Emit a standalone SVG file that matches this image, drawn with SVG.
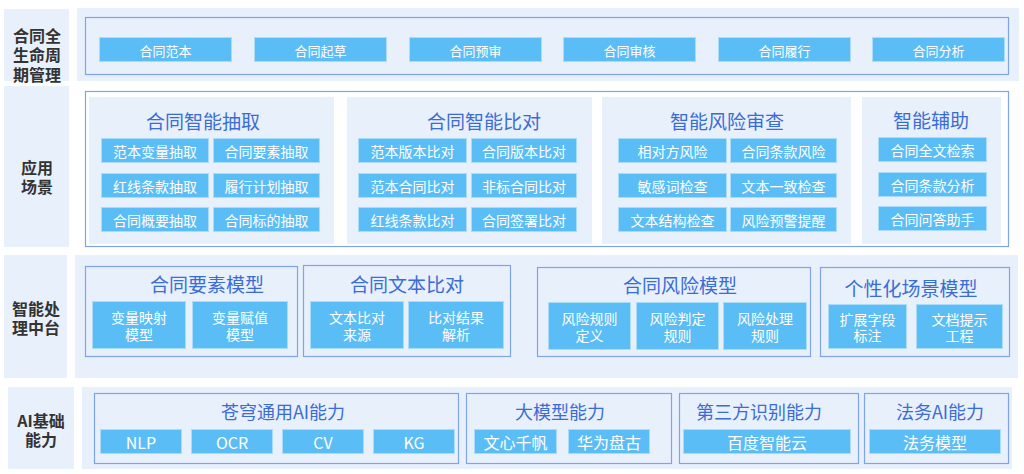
<svg xmlns="http://www.w3.org/2000/svg" width="1024" height="474" viewBox="0 0 1024 474">
<style>
text{font-family:"Noto Sans CJK SC","Noto Sans",sans-serif;text-anchor:middle;dominant-baseline:central}
.lab{fill:#e8f0fc}
.lt{font-size:16px;font-weight:bold;fill:#333}
.band{fill:#e8f0fc}
.frame{fill:#e8f0fc;stroke:#7fa4ea;stroke-width:1.2}
.wframe{fill:#fff;stroke:#7fa4ea;stroke-width:1.2}
.pan{fill:#e8f0fc}
.btn{fill:#5bbdf5;stroke:#a9dbfa;stroke-width:1}
.bt{font-size:14px;fill:#fff}
.bt13{font-size:13px;fill:#fff}
.bt16{font-size:16px;fill:#fff}
.tt{font-size:19px;fill:#3a6cd6}
.tt2{font-size:18px;fill:#3a6cd6}
</style>
<rect width="1024" height="474" fill="#fff"/>

<!-- Row 1 -->
<g id="row1-label">
<rect class="lab" x="4" y="9" width="65" height="72"/>
<text class="lt" x="37" y="35">合同全</text>
<text class="lt" x="37" y="54">生命周</text>
<text class="lt" x="37" y="74">期管理</text>
</g>
<g id="row1">
<rect class="band" x="77" y="8" width="942" height="73"/>
<rect class="frame" x="85.5" y="17.5" width="923" height="57"/>
<g id="n-fanben"><rect class="btn" x="99.5" y="37.5" width="132" height="24"/><text class="bt13" x="165.5" y="50">合同范本</text></g>
<g id="n-qicao"><rect class="btn" x="254.5" y="37.5" width="132" height="24"/><text class="bt13" x="320.5" y="50">合同起草</text></g>
<g id="n-yushen"><rect class="btn" x="409.5" y="37.5" width="132" height="24"/><text class="bt13" x="475.5" y="50">合同预审</text></g>
<g id="n-shenhe"><rect class="btn" x="563.5" y="37.5" width="132" height="24"/><text class="bt13" x="629.5" y="50">合同审核</text></g>
<g id="n-lvxing"><rect class="btn" x="718.5" y="37.5" width="132" height="24"/><text class="bt13" x="784.5" y="50">合同履行</text></g>
<g id="n-fenxi"><rect class="btn" x="872.5" y="37.5" width="132" height="24"/><text class="bt13" x="938.5" y="50">合同分析</text></g>
</g>

<!-- Row 2 -->
<g id="row2-label">
<rect class="lab" x="4" y="86" width="65" height="161"/>
<text class="lt" x="37" y="167">应用</text>
<text class="lt" x="37" y="186">场景</text>
</g>
<g id="row2">
<rect class="wframe" x="85.5" y="91.5" width="923" height="155"/>
<g id="p-chouqu">
<rect class="pan" x="89" y="97" width="245" height="147"/>
<text class="tt" x="203" y="120">合同智能抽取</text>
<rect class="btn" x="101.5" y="138.5" width="107" height="24"/><text class="bt" x="155" y="150.5">范本变量抽取</text>
<rect class="btn" x="213.5" y="138.5" width="106" height="24"/><text class="bt" x="266.5" y="150.5">合同要素抽取</text>
<rect class="btn" x="101.5" y="173.5" width="107" height="24"/><text class="bt" x="155" y="185.5">红线条款抽取</text>
<rect class="btn" x="213.5" y="173.5" width="106" height="24"/><text class="bt" x="266.5" y="185.5">履行计划抽取</text>
<rect class="btn" x="101.5" y="207.5" width="107" height="24"/><text class="bt" x="155" y="219.5">合同概要抽取</text>
<rect class="btn" x="213.5" y="207.5" width="106" height="24"/><text class="bt" x="266.5" y="219.5">合同标的抽取</text>
</g>
<g id="p-bidui">
<rect class="pan" x="347" y="97" width="245" height="147"/>
<text class="tt" x="484" y="120">合同智能比对</text>
<rect class="btn" x="358.5" y="138.5" width="108" height="24"/><text class="bt" x="412.5" y="150.5">范本版本比对</text>
<rect class="btn" x="471.5" y="138.5" width="105" height="24"/><text class="bt" x="524" y="150.5">合同版本比对</text>
<rect class="btn" x="358.5" y="173.5" width="108" height="24"/><text class="bt" x="412.5" y="185.5">范本合同比对</text>
<rect class="btn" x="471.5" y="173.5" width="105" height="24"/><text class="bt" x="524" y="185.5">非标合同比对</text>
<rect class="btn" x="358.5" y="207.5" width="108" height="24"/><text class="bt" x="412.5" y="219.5">红线条款比对</text>
<rect class="btn" x="471.5" y="207.5" width="105" height="24"/><text class="bt" x="524" y="219.5">合同签署比对</text>
</g>
<g id="p-fengxian">
<rect class="pan" x="602" y="97" width="249" height="147"/>
<text class="tt" x="727" y="120">智能风险审查</text>
<rect class="btn" x="618.5" y="138.5" width="108" height="24"/><text class="bt" x="672.5" y="150.5">相对方风险</text>
<rect class="btn" x="730.5" y="138.5" width="106" height="24"/><text class="bt" x="783.5" y="150.5">合同条款风险</text>
<rect class="btn" x="618.5" y="173.5" width="108" height="24"/><text class="bt" x="672.5" y="185.5">敏感词检查</text>
<rect class="btn" x="730.5" y="173.5" width="106" height="24"/><text class="bt" x="783.5" y="185.5">文本一致检查</text>
<rect class="btn" x="618.5" y="207.5" width="108" height="24"/><text class="bt" x="672.5" y="219.5">文本结构检查</text>
<rect class="btn" x="730.5" y="207.5" width="106" height="24"/><text class="bt" x="783.5" y="219.5">风险预警提醒</text>
</g>
<g id="p-fuzhu">
<rect class="pan" x="862" y="97" width="139" height="147"/>
<text class="tt" x="931" y="119">智能辅助</text>
<rect class="btn" x="878.5" y="137.5" width="108" height="24"/><text class="bt" x="932.5" y="149.5">合同全文检索</text>
<rect class="btn" x="878.5" y="172.5" width="108" height="24"/><text class="bt" x="932.5" y="184.5">合同条款分析</text>
<rect class="btn" x="878.5" y="206.5" width="108" height="24"/><text class="bt" x="932.5" y="218.5">合同问答助手</text>
</g>
</g>

<!-- Row 3 -->
<g id="row3-label">
<rect class="lab" x="4" y="255" width="63" height="123"/>
<text class="lt" x="36" y="308">智能处</text>
<text class="lt" x="36" y="327">理中台</text>
</g>
<g id="row3">
<rect class="band" x="75" y="255" width="943" height="123"/>
<g id="m-yaosu">
<rect class="frame" x="85.5" y="266.5" width="212" height="90"/>
<text class="tt" x="207" y="283">合同要素模型</text>
<rect class="btn" x="92.5" y="301.5" width="93" height="47"/><text class="bt" x="139" y="317">变量映射</text><text class="bt" x="139" y="334">模型</text>
<rect class="btn" x="192.5" y="301.5" width="95" height="47"/><text class="bt" x="240" y="317">变量赋值</text><text class="bt" x="240" y="334">模型</text>
</g>
<g id="m-wenben">
<rect class="frame" x="303.5" y="265.5" width="207" height="91"/>
<text class="tt" x="407" y="283">合同文本比对</text>
<rect class="btn" x="310.5" y="301.5" width="93" height="47"/><text class="bt" x="357" y="317">文本比对</text><text class="bt" x="357" y="334">来源</text>
<rect class="btn" x="408.5" y="301.5" width="95" height="47"/><text class="bt" x="456" y="317">比对结果</text><text class="bt" x="456" y="334">解析</text>
</g>
<g id="m-fengxian">
<rect class="frame" x="537.5" y="267.5" width="273" height="89"/>
<text class="tt" x="680" y="284">合同风险模型</text>
<rect class="btn" x="548.5" y="302.5" width="82" height="47"/><text class="bt" x="589.5" y="318">风险规则</text><text class="bt" x="589.5" y="335">定义</text>
<rect class="btn" x="636.5" y="302.5" width="82" height="47"/><text class="bt" x="677.5" y="318">风险判定</text><text class="bt" x="677.5" y="335">规则</text>
<rect class="btn" x="723.5" y="302.5" width="83" height="47"/><text class="bt" x="765" y="318">风险处理</text><text class="bt" x="765" y="335">规则</text>
</g>
<g id="m-gexing">
<rect class="frame" x="820.5" y="267.5" width="189" height="89"/>
<text class="tt" x="911" y="287">个性化场景模型</text>
<rect class="btn" x="828.5" y="304.5" width="78" height="44"/><text class="bt" x="867.5" y="319">扩展字段</text><text class="bt" x="867.5" y="335">标注</text>
<rect class="btn" x="916.5" y="304.5" width="86" height="44"/><text class="bt" x="959.5" y="319">文档提示</text><text class="bt" x="959.5" y="335">工程</text>
</g>
</g>

<!-- Row 4 -->
<g id="row4-label">
<rect class="lab" x="8" y="387" width="66" height="82"/>
<text class="lt" x="41" y="420">AI基础</text>
<text class="lt" x="41" y="439">能力</text>
</g>
<g id="row4">
<rect class="band" x="82" y="387" width="930" height="82"/>
<g id="b-cangqiong">
<rect class="frame" x="94.5" y="393.5" width="364" height="70"/>
<text class="tt2" x="283" y="411">苍穹通用AI能力</text>
<rect class="btn" x="100.5" y="429.5" width="81" height="24"/><text class="bt16" x="141" y="441.5">NLP</text>
<rect class="btn" x="191.5" y="429.5" width="81" height="24"/><text class="bt16" x="232" y="441.5">OCR</text>
<rect class="btn" x="282.5" y="429.5" width="81" height="24"/><text class="bt16" x="323" y="441.5">CV</text>
<rect class="btn" x="373.5" y="429.5" width="81" height="24"/><text class="bt16" x="414" y="441.5">KG</text>
</g>
<g id="b-damoxing">
<rect class="frame" x="466.5" y="393.5" width="205" height="70"/>
<text class="tt2" x="560" y="411">大模型能力</text>
<rect class="btn" x="474.5" y="429.5" width="82" height="24"/><text class="bt16" x="515.5" y="441.5">文心千帆</text>
<rect class="btn" x="568.5" y="429.5" width="81" height="24"/><text class="bt16" x="609" y="441.5">华为盘古</text>
</g>
<g id="b-disanfang">
<rect class="frame" x="679.5" y="393.5" width="179" height="70"/>
<text class="tt2" x="759" y="411">第三方识别能力</text>
<rect class="btn" x="683.5" y="429.5" width="167" height="24"/><text class="bt16" x="767" y="441.5">百度智能云</text>
</g>
<g id="b-fawu">
<rect class="frame" x="864.5" y="393.5" width="144" height="70"/>
<text class="tt2" x="940" y="411">法务AI能力</text>
<rect class="btn" x="869.5" y="429.5" width="131" height="24"/><text class="bt16" x="935" y="441.5">法务模型</text>
</g>
</g>
<g id="connectors"/>
</svg>
